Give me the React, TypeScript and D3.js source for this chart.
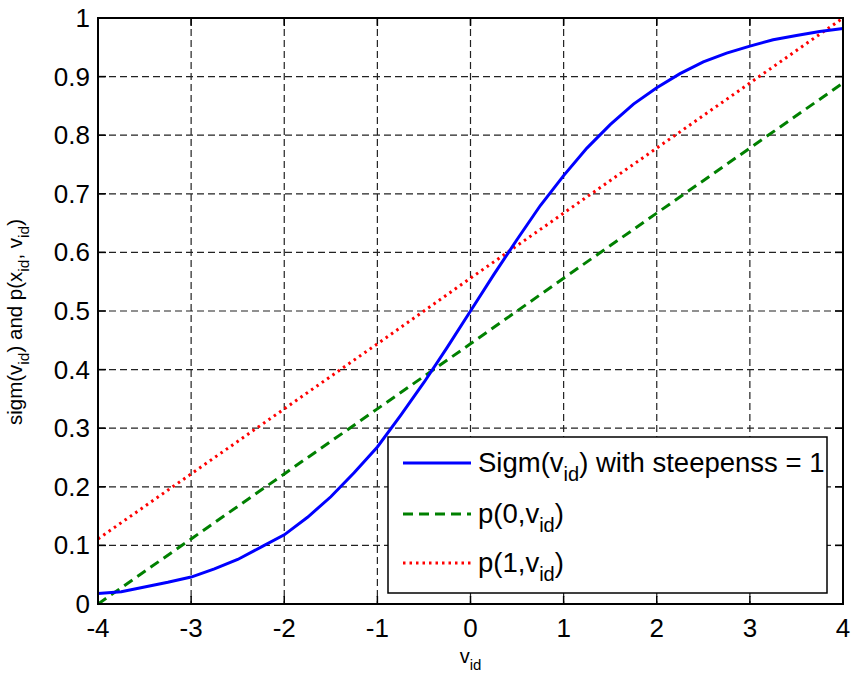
import React from "react";
import * as d3 from "d3";

const sigX = [-4, -3.75, -3.5, -3.25, -3, -2.75, -2.5, -2.25, -2, -1.75, -1.5, -1.25, -1, -0.75, -0.5, -0.25, 0, 0.25, 0.5, 0.75, 1, 1.25, 1.5, 1.75, 2, 2.25, 2.5, 2.75, 3, 3.25, 3.5, 3.75, 4];
const sigY = [0.018, 0.021, 0.029, 0.037, 0.046, 0.06, 0.076, 0.097, 0.118, 0.148, 0.183, 0.224, 0.268, 0.322, 0.378, 0.438, 0.5, 0.562, 0.622, 0.68, 0.731, 0.778, 0.818, 0.853, 0.881, 0.905, 0.925, 0.94, 0.952, 0.963, 0.97, 0.977, 0.982];
const pX = [-4, -3, -2, -1, 0, 1, 2, 3, 4];
const p0Y = [0, 0.111, 0.222, 0.333, 0.444, 0.556, 0.667, 0.778, 0.889];
const p1Y = [0.111, 0.222, 0.333, 0.444, 0.556, 0.667, 0.778, 0.889, 1.0];
const xTicks = [-4, -3, -2, -1, 0, 1, 2, 3, 4];
const yTicks = [0, 0.1, 0.2, 0.3, 0.4, 0.5, 0.6, 0.7, 0.8, 0.9, 1];

const W = 852, H = 677;
const L = 98, R = 843, T = 18, B = 604;
const FONT = "Liberation Sans, Arial, sans-serif";

export default function App() {
  const x = d3.scaleLinear().domain([-4, 4]).range([L, R]);
  const y = d3.scaleLinear().domain([0, 1]).range([B, T]);
  const line = d3.line<[number, number]>().x(d => x(d[0])).y(d => y(d[1]));
  const sig = line(sigX.map((v, i) => [v, sigY[i]]));
  const p0 = line(pX.map((v, i) => [v, p0Y[i]]));
  const p1 = line(pX.map((v, i) => [v, p1Y[i]]));
  const tl = 8;
  const lg = { x: 388, y: 437, w: 439, h: 156 };
  const rows = [463, 514, 563];
  const fs = 26;
  const lfs = 27.5;
  const sub = 20;
  return (
    <svg width={W} height={H} style={{ position: "absolute", left: 0, top: 0, background: "#fff" }}>
      <defs>
        <clipPath id="clip"><rect x={L} y={T - 2} width={R - L + 2} height={B - T + 4} /></clipPath>
      </defs>
      <rect x={0} y={0} width={W} height={H} fill="#fff" />
      {xTicks.slice(1, -1).map(t => (
        <line key={"gx" + t} x1={x(t)} x2={x(t)} y1={T} y2={B} stroke="#222" strokeWidth={1.2} strokeDasharray="7,4" />
      ))}
      {yTicks.slice(1, -1).map(t => (
        <line key={"gy" + t} x1={L} x2={R} y1={y(t)} y2={y(t)} stroke="#222" strokeWidth={1.2} strokeDasharray="7,4" />
      ))}
      {xTicks.map(t => (
        <g key={"tx" + t}>
          <line x1={x(t)} x2={x(t)} y1={B} y2={B - tl} stroke="#000" strokeWidth={1.5} />
          <line x1={x(t)} x2={x(t)} y1={T} y2={T + tl} stroke="#000" strokeWidth={1.5} />
          <text x={x(t)} y={B + 33} textAnchor="middle" fontFamily={FONT} fontSize={fs} fill="#000">{t}</text>
        </g>
      ))}
      {yTicks.map(t => (
        <g key={"ty" + t}>
          <line x1={L} x2={L + tl} y1={y(t)} y2={y(t)} stroke="#000" strokeWidth={1.5} />
          <line x1={R} x2={R - tl} y1={y(t)} y2={y(t)} stroke="#000" strokeWidth={1.5} />
          <text x={L - 8} y={y(t) + 9} textAnchor="end" fontFamily={FONT} fontSize={fs} fill="#000">{String(t)}</text>
        </g>
      ))}
      <g clipPath="url(#clip)">
        <path d={p1 || ""} fill="none" stroke="#ff0000" strokeWidth={3} strokeDasharray="2.5,4" />
        <path d={p0 || ""} fill="none" stroke="#008000" strokeWidth={3} strokeDasharray="10,6" />
        <path d={sig || ""} fill="none" stroke="#0000ff" strokeWidth={3} />
      </g>
      <rect x={L} y={T} width={R - L} height={B - T} fill="none" stroke="#000" strokeWidth={2} />
      <rect x={lg.x} y={lg.y} width={lg.w} height={lg.h} fill="#fff" stroke="#000" strokeWidth={1.5} />
      <line x1={403} x2={471} y1={rows[0]} y2={rows[0]} stroke="#0000ff" strokeWidth={3} />
      <line x1={403} x2={471} y1={rows[1]} y2={rows[1]} stroke="#008000" strokeWidth={3} strokeDasharray="10,6" />
      <line x1={403} x2={471} y1={rows[2]} y2={rows[2]} stroke="#ff0000" strokeWidth={3} strokeDasharray="2.5,4" />
      <text x={478} y={rows[0] + 9} fontFamily={FONT} fontSize={lfs} fill="#000">
        Sigm(v<tspan dy={9} fontSize={sub}>id</tspan><tspan dy={-9}>) with steepenss = 1</tspan>
      </text>
      <text x={478} y={rows[1] + 9} fontFamily={FONT} fontSize={lfs} fill="#000">
        p(0,v<tspan dy={9} fontSize={sub}>id</tspan><tspan dy={-9}>)</tspan>
      </text>
      <text x={478} y={rows[2] + 9} fontFamily={FONT} fontSize={lfs} fill="#000">
        p(1,v<tspan dy={9} fontSize={sub}>id</tspan><tspan dy={-9}>)</tspan>
      </text>
      <text x={(L + R) / 2} y={663} textAnchor="middle" fontFamily={FONT} fontSize={20} fill="#000">
        v<tspan dy={7} fontSize={15}>id</tspan>
      </text>
      <text transform={`translate(22, 322) rotate(-90)`} textAnchor="middle" fontFamily={FONT} fontSize={20.5} fill="#000">
        sigm(v<tspan dy={7} fontSize={15.5}>id</tspan><tspan dy={-7}>) and p(x</tspan><tspan dy={7} fontSize={15.5}>id</tspan><tspan dy={-7}>, v</tspan><tspan dy={7} fontSize={15.5}>id</tspan><tspan dy={-7}>)</tspan>
      </text>
    </svg>
  );
}
